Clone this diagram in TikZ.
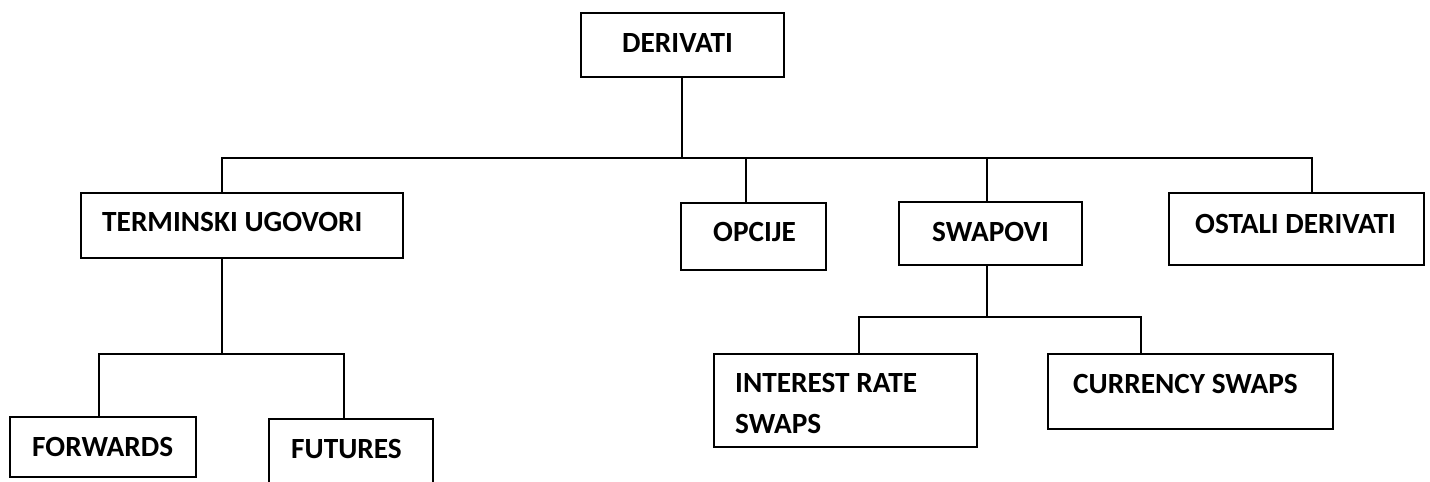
\documentclass[tikz,border=0pt]{standalone}
\usepackage{fontspec}
\setmainfont{Carlito}
\begin{document}
\begin{tikzpicture}[x=1pt,y=-1pt,
  box/.style={draw=black, line width=2pt, inner sep=0pt, fill=none},
  lbl/.style={anchor=base west, inner sep=0pt, font=\fontsize{29.3}{35}\selectfont\bfseries},
  conn/.style={draw=black, line width=2pt, line join=miter}]
\useasboundingbox (0,0) rectangle (1430,482);
% boxes
\node[box, minimum width=203pt, minimum height=64pt] (derivati) at (682.5,45) {};
\node[box, minimum width=322pt, minimum height=65pt] (terminski) at (242,225.5) {};
\node[box, minimum width=145pt, minimum height=67pt] (opcije) at (753.5,236.5) {};
\node[box, minimum width=183pt, minimum height=63pt] (swapovi) at (990.5,233.5) {};
\node[box, minimum width=255pt, minimum height=72pt] (ostali) at (1296.5,229) {};
\node[box, minimum width=263pt, minimum height=93pt] (interest) at (845.5,400.5) {};
\node[box, minimum width=285pt, minimum height=75pt] (currency) at (1190.5,391.5) {};
\node[box, minimum width=186pt, minimum height=60pt] (forwards) at (103,447) {};
\node[inner sep=0pt, minimum width=164pt, minimum height=66pt] (futures) at (351,452) {};
\draw[conn] (futures.south west) -- (futures.north west) -- (futures.north east) -- (futures.south east);
% labels
\node[lbl] (tDer) at (622,52) {DERIVATI};
\node[lbl] (tTer) at (102,231) {TERMINSKI UGOVORI};
\node[lbl] (tOpc) at (713,241) {OPCIJE};
\node[lbl] (tSwa) at (932,241) {SWAPOVI};
\node[lbl] (tOst) at (1195,233) {OSTALI DERIVATI};
\node[lbl] (tInt1) at (735,392) {INTEREST RATE};
\node[lbl] (tInt2) at (735,433) {SWAPS};
\node[lbl] (tCur) at (1073,393) {CURRENCY SWAPS};
\node[lbl] (tFor) at (32,456) {FORWARDS};
\node[lbl] (tFut) at (291,458) {FUTURES};
% junctions
\coordinate (jT) at (222,158);
\coordinate (jD) at (682,158);
\coordinate (jO) at (746,158);
\coordinate (jS) at (987,158);
\coordinate (jR) at (1312,158);
\coordinate (kT) at (222,354);
\coordinate (kF) at (99,354);
\coordinate (kU) at (344,354);
\coordinate (mS) at (987,317);
\coordinate (mI) at (859,317);
\coordinate (mC) at (1141,317);
% connectors
\draw[conn] (derivati.south -| jD) -- (jD);
\draw[conn] (jT |- terminski.north) -- (jT) -- (jR) -- (jR |- ostali.north);
\draw[conn] (jO) -- (jO |- opcije.north);
\draw[conn] (jS) -- (jS |- swapovi.north);
\draw[conn] (terminski.south -| kT) -- (kT);
\draw[conn] (kF |- forwards.north) -- (kF) -- (kU) -- (kU |- futures.north);
\draw[conn] (swapovi.south -| mS) -- (mS);
\draw[conn] (mI |- interest.north) -- (mI) -- (mC) -- (mC |- currency.north);
\end{tikzpicture}
\end{document}
